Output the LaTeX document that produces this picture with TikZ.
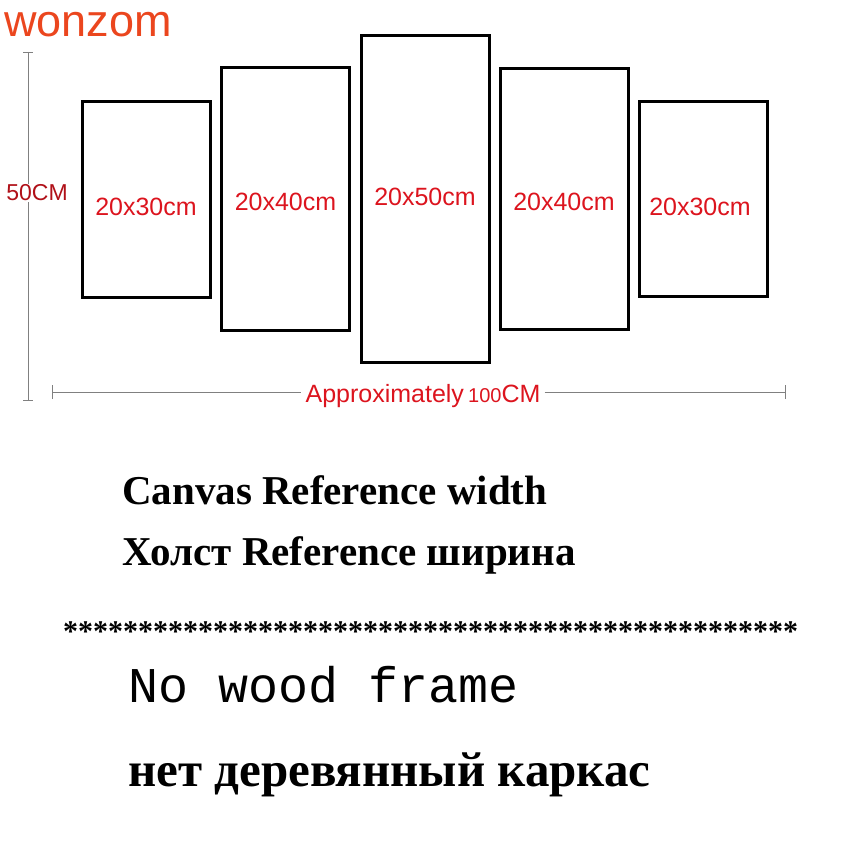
\documentclass[tikz,border=0pt]{standalone}
\usepackage{fontspec}
\setmainfont{Liberation Serif}
\setsansfont{Liberation Sans}
\setmonofont{Liberation Mono}
\usetikzlibrary{positioning}
\definecolor{wred}{RGB}{220,20,30}
\definecolor{worange}{RGB}{235,70,30}
\begin{document}
\begin{tikzpicture}
[x=1pt,y=-1pt,
 panel/.style={draw=black,line width=3pt,minimum width=128pt,inner sep=0pt,outer sep=0pt},
 size/.style={text=wred,font=\sffamily\fontsize{25}{25}\selectfont},
 dim/.style={draw=gray,line width=0.8pt},
 line/.style={anchor=west,inner sep=0pt,font=\bfseries\fontsize{41}{41}\selectfont}]
\useasboundingbox (0,0) rectangle (850,850);
\node[text=worange,font=\sffamily\fontsize{45}{45}\selectfont,anchor=west,inner sep=0pt] (brand) at (4,25) {wonzom};
\node[panel,minimum height=195pt] (pA) at (146,199.5) {};
\node[panel,minimum height=262pt] (pB) at (285.5,199) {};
\node[panel,minimum height=326pt] (pC) at (425,199) {};
\node[panel,minimum height=260pt] (pD) at (564,199) {};
\node[panel,minimum height=194pt] (pE) at (703,199) {};
\node[size] at (146,207) {20x30cm};
\node[size] at (285.5,202) {20x40cm};
\node[size] at (425,197) {20x50cm};
\node[size] at (564,202) {20x40cm};
\node[size] at (700,207) {20x30cm};
% dimension lines
\coordinate (vT) at (28,52);
\coordinate (vB) at (28,400);
\node[text=wred!80!black,font=\sffamily\fontsize{23}{23}\selectfont,fill=white,inner sep=1pt] (vL) at (37,193) {50CM};
\draw[dim] (vT) -- (vL.north -| vT) (vL.south -| vT) -- (vB);
\draw[dim] ([xshift=-5pt]vT) -- ([xshift=5pt]vT) ([xshift=-5pt]vB) -- ([xshift=5pt]vB);
\coordinate (hL) at (52,392);
\coordinate (hR) at (785,392);
\node[text=wred,font=\sffamily\fontsize{25}{25}\selectfont,inner sep=4pt] (hLab) at (423,396) {Approximately\,{\fontsize{20}{20}\selectfont 100}CM};
\draw[dim] (hL) -- (hLab.west |- hL) (hLab.east |- hL) -- (hR);
\draw[dim] ([yshift=-7pt]hL) -- ([yshift=7pt]hL) ([yshift=-7pt]hR) -- ([yshift=7pt]hR);
% texts
\node[line] (t1) at (122,490) {Canvas Reference width};
\node[line] (t2) at (122,555) {Холст Reference ширина};
\node[line,font=\bfseries\fontsize{30}{30}\selectfont] (t3) at (63,632) {*************************************************};
\node[line,font=\ttfamily\fontsize{50}{50}\selectfont] (t4) at (128,685) {No wood frame};
\node[line,font=\bfseries\fontsize{49}{49}\selectfont] (t5) at (128,775) {нет деревянный каркас};
\end{tikzpicture}
\end{document}
